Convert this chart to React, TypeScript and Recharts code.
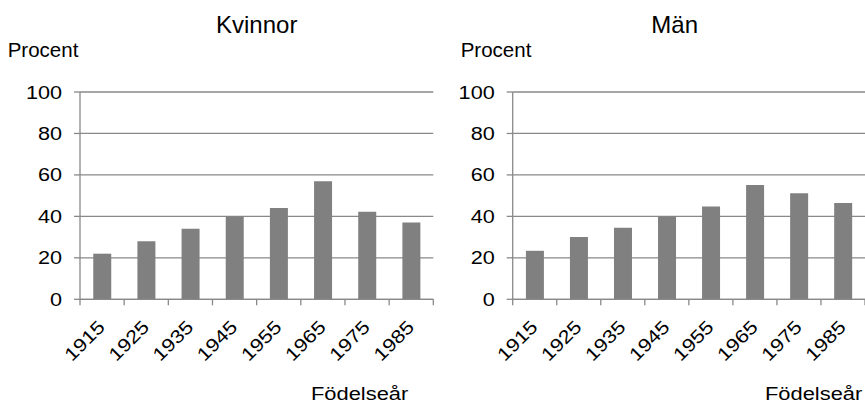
import React from "react";
import { BarChart, Bar, XAxis, YAxis, CartesianGrid } from "recharts";

const years = ["1915", "1925", "1935", "1945", "1955", "1965", "1975", "1985"];
const kvinnor = [22, 28, 34, 40, 44, 57, 42.2, 37];
const man = [23.4, 30, 34.5, 40, 44.8, 55.1, 51.2, 46.4];
const yTicks = [0, 20, 40, 60, 80, 100];

const FONT = "'Liberation Sans', Arial, Helvetica, sans-serif";
const GRAY = "#898989";
const BAR = "#808080";
const TICK_FS = 18.5;
const STRETCH = 1.17;

const kData = years.map((y, i) => ({ year: y, v: kvinnor[i] }));
const mData = years.map((y, i) => ({ year: y, v: man[i] }));

type PanelProps = {
  data: { year: string; v: number }[];
  width: number;
  yAxisWidth: number;
  marginRight: number;
};

const CHART_H = 402;
const MARGIN_TOP = 92;
const XAXIS_H = 60;
const MARGIN_BOTTOM = 42.7;

function makeXTick(band: number, count: number) {
  return (props: any) => {
    const { x, y, payload, index } = props;
    return (
      <g>
        <line x1={x - band / 2} x2={x - band / 2} y1={y} y2={y + 6} stroke={GRAY} strokeWidth={1.3} />
        {index === count - 1 && (
          <line x1={x + band / 2} x2={x + band / 2} y1={y} y2={y + 6} stroke={GRAY} strokeWidth={1.3} />
        )}
        <text
          transform={`translate(${x + 4},${y + 29}) rotate(-45) scale(${STRETCH},1)`}
          textAnchor="end"
          fontSize={TICK_FS}
          fontFamily={FONT}
          fill="#000"
        >
          {payload.value}
        </text>
      </g>
    );
  };
}

const YTick = (props: any) => {
  const { x, y, payload } = props;
  return (
    <text
      transform={`translate(${x},${y}) scale(${STRETCH},1)`}
      textAnchor="end"
      dy="0.355em"
      fontSize={TICK_FS}
      fontFamily={FONT}
      fill="#000"
    >
      {payload.value}
    </text>
  );
};

function Panel({ data, width, yAxisWidth, marginRight }: PanelProps) {
  const plotW = width - yAxisWidth - marginRight;
  const band = plotW / data.length;
  return (
    <BarChart
      width={width}
      height={CHART_H}
      data={data}
      margin={{ top: MARGIN_TOP, right: marginRight, bottom: MARGIN_BOTTOM, left: 0 }}
      barCategoryGap="30%"
    >
      <CartesianGrid vertical={false} stroke={GRAY} strokeWidth={1.3} />
      <XAxis
        dataKey="year"
        interval={0}
        height={XAXIS_H}
        tickSize={0}
        tickMargin={0}
        tickLine={false}
        axisLine={{ stroke: GRAY, strokeWidth: 1.3 }}
        tick={makeXTick(band, data.length)}
      />
      <YAxis
        width={yAxisWidth}
        domain={[0, 100]}
        ticks={yTicks}
        interval={0}
        tickSize={6}
        tickMargin={12}
        tickLine={{ stroke: GRAY, strokeWidth: 1.3 }}
        axisLine={{ stroke: GRAY, strokeWidth: 1.3 }}
        tick={<YTick />}
      />
      <Bar dataKey="v" fill={BAR} isAnimationActive={false} />
    </BarChart>
  );
}

export default function App() {
  return (
    <div
      style={{
        position: "absolute",
        left: 0,
        top: 0,
        width: 865,
        height: 402,
        background: "#fff",
        fontFamily: FONT,
        overflow: "hidden",
      }}
    >
      <div style={{ position: "absolute", left: 0, top: 0 }}>
        <Panel data={kData} width={440} yAxisWidth={80} marginRight={6.7} />
      </div>
      <div style={{ position: "absolute", left: 440, top: 0 }}>
        <Panel data={mData} width={425} yAxisWidth={72.7} marginRight={0} />
      </div>
      <svg
        width={865}
        height={402}
        style={{ position: "absolute", left: 0, top: 0, pointerEvents: "none" }}
      >
        <g fontFamily={FONT} fill="#000">
          <text x={256.7} y={33.3} fontSize={24} textAnchor="middle">Kvinnor</text>
          <text x={674.7} y={33.3} fontSize={24} textAnchor="middle">Män</text>
          <text x={7.7} y={56.7} fontSize={20.5}>Procent</text>
          <text x={460.7} y={56.7} fontSize={20.5}>Procent</text>
          <text transform={`translate(311,399.5) scale(${STRETCH},1)`} fontSize={18.7}>Födelseår</text>
          <text transform={`translate(765,399.5) scale(${STRETCH},1)`} fontSize={18.7}>Födelseår</text>
        </g>
      </svg>
    </div>
  );
}
